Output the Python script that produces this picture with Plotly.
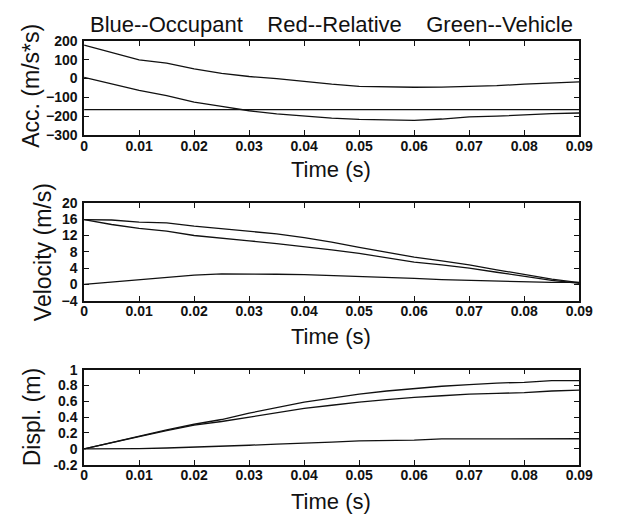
import plotly.graph_objects as go

# ---- data ----
time_s = [0, 0.005, 0.01, 0.015, 0.02, 0.025, 0.03, 0.035, 0.04, 0.045,
          0.05, 0.055, 0.06, 0.065, 0.07, 0.075, 0.08, 0.085, 0.09]

acc_occupant = [6, -30, -63, -90, -125, -148, -171, -188, -200, -210,
                -217, -218, -222, -215, -204, -200, -192, -186, -183]
acc_relative = [178, 138, 100, 82, 52, 28, 11, 0, -16, -30,
                -41, -44, -46, -45, -41, -38, -29, -24, -17]
acc_vehicle = [-165] * len(time_s)

vel_occupant = [15.9, 15.8, 15.3, 15.1, 14.3, 13.7, 13.1, 12.4, 11.5, 10.4,
                9.1, 7.9, 6.7, 5.8, 4.8, 3.6, 2.4, 1.3, 0.45]
vel_vehicle = [15.9, 14.7, 13.75, 13.1, 12.0, 11.4, 10.7, 10.0, 9.3, 8.5,
               7.6, 6.5, 5.5, 4.8, 4.0, 3.0, 2.0, 1.0, 0.3]
vel_relative = [0.05, 0.6, 1.2, 1.6, 2.3, 2.6, 2.6, 2.5, 2.4, 2.2,
                1.9, 1.7, 1.5, 1.2, 1.0, 0.8, 0.6, 0.5, 0.5]

disp_occupant = [0, 0.08, 0.16, 0.24, 0.31, 0.37, 0.45, 0.52, 0.59, 0.64,
                 0.69, 0.73, 0.76, 0.79, 0.81, 0.83, 0.84, 0.86, 0.86]
disp_vehicle = [0, 0.08, 0.155, 0.23, 0.30, 0.345, 0.40, 0.46, 0.51, 0.55,
                0.59, 0.62, 0.65, 0.67, 0.69, 0.70, 0.71, 0.73, 0.74]
disp_relative = [0, 0, 0.003, 0.01, 0.02, 0.035, 0.045, 0.06, 0.07, 0.085,
                 0.10, 0.105, 0.11, 0.125, 0.127, 0.127, 0.127, 0.127, 0.127]

x_ticks = [0, 0.01, 0.02, 0.03, 0.04, 0.05, 0.06, 0.07, 0.08, 0.09]
x_ticklabels = ["0", "0.01", "0.02", "0.03", "0.04", "0.05", "0.06", "0.07", "0.08", "0.09"]
acc_ticks = [200, 100, 0, -100, -200, -300]
vel_ticks = [20, 16, 12, 8, 4, 0, -4]
disp_ticks = [1, 0.8, 0.6, 0.4, 0.2, 0, -0.2]
disp_ticklabels = ["1", "0.8", "0.6", "0.4", "0.2", "0", "-0.2"]

title_text = "Blue--Occupant\u00a0\u00a0\u00a0 Red--Relative\u00a0\u00a0\u00a0 Green--Vehicle"
xlabel = "Time (s)"
ylabels = ["Acc. (m/s*s)", "Velocity (m/s)", "Displ. (m)"]

# ---- layout geometry ----
W, H = 619, 525
FONT = "Liberation Sans, Arial, sans-serif"
INK = "#111111"

def px_x(p):
    return p / W

def px_y(p):
    return 1 - p / H

x_dom = [px_x(82.5), px_x(592.5)]
y_doms = [[px_y(131), px_y(34)], [px_y(302), px_y(201)], [px_y(471), px_y(373)]]

fig = go.Figure()

line_style = dict(color=INK, width=1.3)
series = [
    (acc_occupant, acc_relative, acc_vehicle),
    (vel_occupant, vel_relative, vel_vehicle),
    (disp_occupant, disp_relative, disp_vehicle),
]
for i, grp in enumerate(series):
    xa = "x" if i == 0 else f"x{i+1}"
    ya = "y" if i == 0 else f"y{i+1}"
    for ys in grp:
        fig.add_trace(go.Scatter(x=time_s, y=ys, mode="lines", line=line_style,
                                 xaxis=xa, yaxis=ya, showlegend=False, hoverinfo="skip"))

tickfont = dict(family=FONT, size=14, color=INK, weight="bold")
common_x = dict(domain=x_dom, range=[0, 0.09], tickvals=x_ticks, ticktext=x_ticklabels,
                showline=True, mirror="ticks", linecolor=INK, linewidth=1.6,
                ticks="inside", ticklen=5, tickwidth=1.4, tickcolor=INK,
                showgrid=False, zeroline=False, tickfont=tickfont, ticklabelstandoff=-3)
common_y = dict(showline=True, mirror="ticks", linecolor=INK, linewidth=1.6,
                ticks="inside", ticklen=5, tickwidth=1.4, tickcolor=INK,
                showgrid=False, zeroline=False, tickfont=tickfont, ticklabelstandoff=2)

layout = dict(
    width=W, height=H, margin=dict(l=0, r=0, t=0, b=0),
    paper_bgcolor="white", plot_bgcolor="white", showlegend=False,
    xaxis=dict(common_x, anchor="y"),
    yaxis=dict(common_y, domain=y_doms[0], range=[-300, 200], tickvals=acc_ticks, anchor="x"),
    xaxis2=dict(common_x, anchor="y2"),
    yaxis2=dict(common_y, domain=y_doms[1], range=[-4, 20], tickvals=vel_ticks, anchor="x2"),
    xaxis3=dict(common_x, anchor="y3"),
    yaxis3=dict(common_y, domain=y_doms[2], range=[-0.2, 1], tickvals=disp_ticks,
                ticktext=disp_ticklabels, anchor="x3"),
)
fig.update_layout(**layout)

ann = []
ann.append(dict(text=title_text, x=px_x(337), y=px_y(17), xref="paper", yref="paper",
                xanchor="center", yanchor="middle", showarrow=False,
                font=dict(family=FONT, size=22, color=INK)))
for yc in [167, 339, 509]:
    ann.append(dict(text=xlabel, x=px_x(337), y=px_y(yc), xref="paper", yref="paper",
                    xanchor="center", yanchor="middle", showarrow=False,
                    font=dict(family=FONT, size=22, color=INK)))
for lab, xc, yc in zip(ylabels, [27, 40, 29], [80, 252, 422]):
    ann.append(dict(text=lab, x=px_x(xc), y=px_y(yc), xref="paper", yref="paper",
                    xanchor="center", yanchor="middle", showarrow=False, textangle=-90,
                    font=dict(family=FONT, size=23, color=INK)))
fig.update_layout(annotations=ann)

fig.write_html("out.html")
